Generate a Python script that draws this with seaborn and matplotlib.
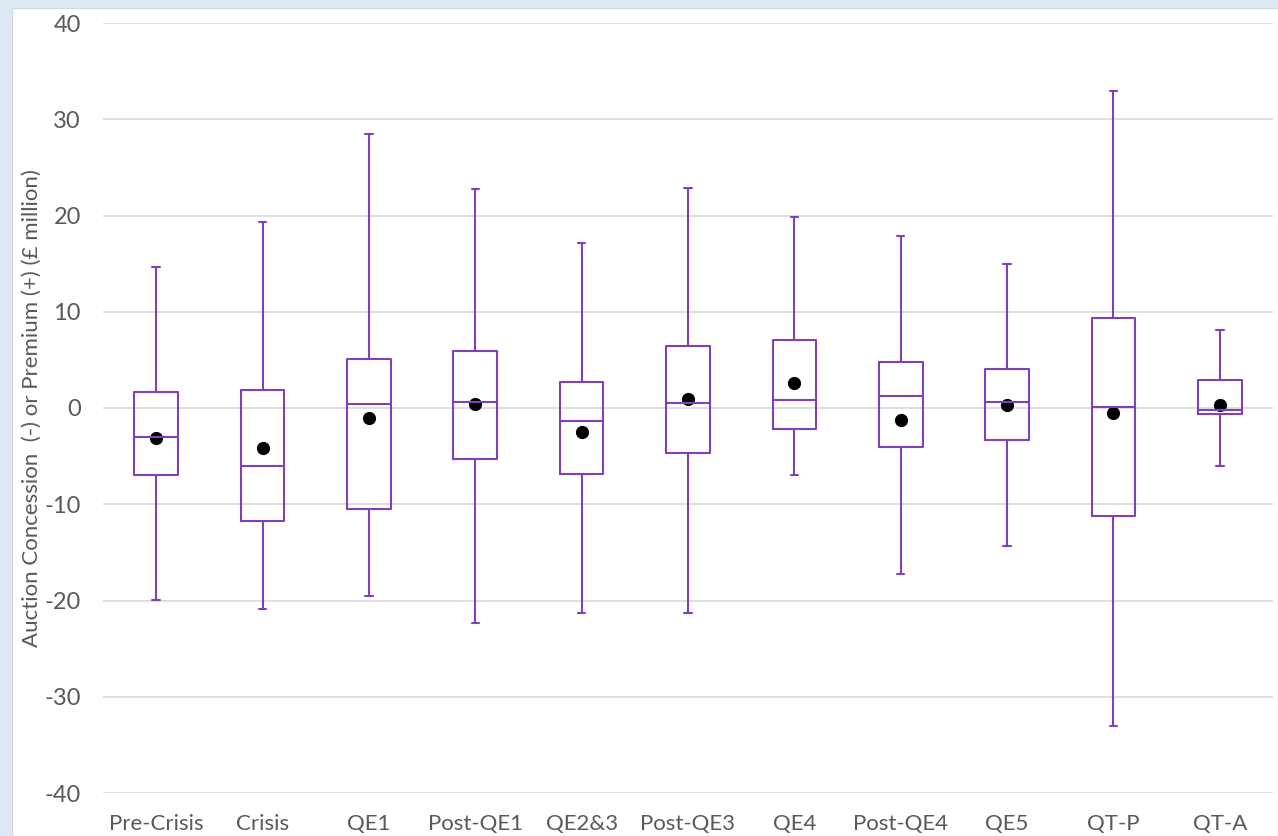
import numpy as np
import pandas as pd
import matplotlib
matplotlib.use("Agg")
import matplotlib.pyplot as plt
import seaborn as sns

# Auction concession / premium by policy period (£ million): five-number summaries and means
periods = ["Pre-Crisis", "Crisis", "QE1", "Post-QE1", "QE2&3", "Post-QE3",
           "QE4", "Post-QE4", "QE5", "QT-P", "QT-A"]
whisker_low = [-19.9, -20.9, -19.5, -22.3, -21.3, -21.3, -7.0, -17.2, -14.3, -33.0, -6.0]
q1 = [-7.0, -11.7, -10.5, -5.3, -6.9, -4.7, -2.2, -4.05, -3.3, -11.2, -0.62]
median = [-3.0, -6.0, 0.45, 0.62, -1.3, 0.5, 0.83, 1.2, 0.62, 0.07, -0.2]
q3 = [1.7, 1.87, 5.08, 5.88, 2.7, 6.4, 7.1, 4.8, 4.05, 9.4, 2.9]
whisker_high = [14.7, 19.3, 28.5, 22.8, 17.1, 22.9, 19.8, 17.9, 15.0, 32.9, 8.1]
means = [-3.1, -4.2, -1.0, 0.38, -2.5, 0.93, 2.6, -1.2, 0.3, -0.55, 0.34]

PURPLE = "#7E40BC"
TEXT = "#595959"
GRID = "#d9d9d9"
FONT = ["Lato", "DejaVu Sans"]

# Long-form table: each period's five summary values give the box directly
rows = []
for p, lo, a, m, b, hi in zip(periods, whisker_low, q1, median, q3, whisker_high):
    for v in (lo, a, m, b, hi):
        rows.append({"period": p, "value": v})
box_df = pd.DataFrame(rows)
mean_df = pd.DataFrame({"period": periods, "mean": means})

sns.set_style("white")
plt.rcParams["font.family"] = FONT
plt.rcParams["axes.unicode_minus"] = False

fig = plt.figure(figsize=(12.78, 8.36), dpi=100, facecolor="#dde8f2")
panel = fig.add_axes([12 / 1278, 0, 1 - 12 / 1278, (836 - 8) / 836], zorder=-1)
panel.set_facecolor("white")
panel.set_xticks([])
panel.set_yticks([])
for s in panel.spines.values():
    s.set_color("#cfd8e0")
    s.set_linewidth(0.8)

ax = fig.add_axes([103 / 1278, 43 / 836, 1170 / 1278, 770 / 836], zorder=1)
ax.set_facecolor("none")

sns.boxplot(data=box_df, x="period", y="value", order=periods, ax=ax,
            whis=(0, 100), width=0.41, fill=False, color=PURPLE,
            linecolor=PURPLE, linewidth=1.5, capwidths=0.07, showfliers=False)
sns.pointplot(data=mean_df, x="period", y="mean", order=periods, ax=ax,
              linestyle="none", markers="o", color="black", markersize=9.5,
              markeredgewidth=0, errorbar=None)

ax.set_ylim(-40, 40)
ax.set_xlim(-0.5, 10.5)
ax.set_yticks(np.arange(-40, 41, 10))
ax.yaxis.grid(True, color=GRID, linewidth=1.2)
ax.set_axisbelow(True)
for s in ax.spines.values():
    s.set_visible(False)

ax.tick_params(axis="y", length=0, pad=16, labelsize=17, labelcolor=TEXT)
ax.tick_params(axis="x", length=0, pad=15, labelsize=16, labelcolor=TEXT)
ax.set_xlabel("")
ax.set_ylabel("Auction Concession  (-) or Premium (+) (£ million)",
              fontsize=16, color=TEXT)
ax.yaxis.set_label_coords(-0.052, 0.5)

fig.savefig("out.png", dpi=100, facecolor=fig.get_facecolor())
